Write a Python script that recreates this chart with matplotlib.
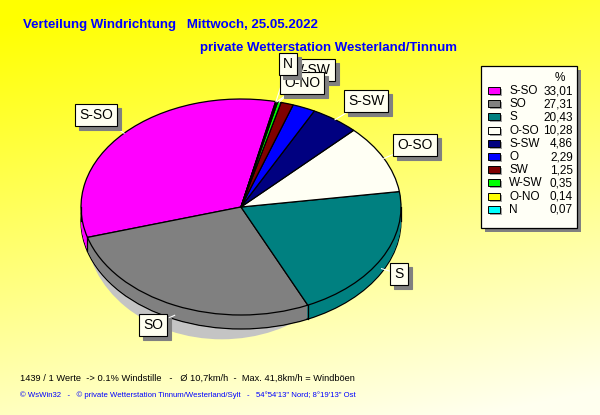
import numpy as np
import matplotlib
matplotlib.use("Agg")
import matplotlib.pyplot as plt
from matplotlib.patches import Rectangle, Ellipse
from matplotlib import transforms

# daten (anteile windrichtung in %)
richtungen = ["S-SO", "SO", "S", "O-SO", "S-SW", "O", "SW", "W-SW", "O-NO", "N"]
anteile = [33.01, 27.31, 20.43, 10.28, 4.86, 2.29, 1.25, 0.35, 0.14, 0.07]
farben = ["#FF00FF", "#808080", "#008080", "#FFFFF4", "#000080",
          "#0000FF", "#800000", "#00FF00", "#FFFF00", "#00FFFF"]

titel1 = "Verteilung Windrichtung   Mittwoch, 25.05.2022"
titel2 = "private Wetterstation Westerland/Tinnum"
info1 = "1439 / 1 Werte  -> 0.1% Windstille   -   \u00d8 10,7km/h  -  Max. 41,8km/h = Windb\u00f6en"
info2 = ("\u00a9 WsWin32   -   \u00a9 private Wetterstation Tinnum/Westerland/Sylt   -   "
         "54\u00b054'13'' Nord; 8\u00b019'13'' Ost")

# label-boxen (pixelpositionen, mitte), reihenfolge = zeichenreihenfolge
label_pos = {"S-SO": (96, 115), "SO": (153, 325), "S": (399, 274),
             "O-SO": (415, 145), "S-SW": (366, 101),
             "W-SW": (311, 70), "O-NO": (302, 83), "N": (288, 64)}

W, H = 600, 415
cx, cy, rx, ry = 241, 207, 160, 108   # ellipse in pixeln
tiefe = 14 / ry
start = 77.5

plt.rcParams['font.family'] = ['Liberation Sans', 'DejaVu Sans']
fig = plt.figure(figsize=(6, 4.15), dpi=100)

# hintergrund
bg = fig.add_axes([0, 0, 1, 1], zorder=0)
yy, xx = np.mgrid[0:H, 0:W]
t = np.clip(yy / H * 0.85 + xx / W * 0.25 - 0.05, 0, 1)
img = np.dstack([np.ones_like(t), np.ones_like(t), t * 0.94])
bg.imshow(img, extent=(0, W, H, 0), aspect='auto')
bg.set_xlim(0, W); bg.set_ylim(H, 0); bg.axis('off')

# torte
x0, x1, y0, y1 = -1.1, 1.1, -1.35, 1.1
pa = fig.add_axes([(cx + x0 * rx) / W, 1 - (cy - y0 * ry) / H,
                   (x1 - x0) * rx / W, (y1 - y0) * ry / H], zorder=1)
pa.patch.set_alpha(0)
pa.add_patch(Ellipse((-0.12, -0.2), 1.7, 2.05, color='#C4C4C4', lw=0))
for k, d in enumerate(np.linspace(tiefe, 0, 15)):
    lw = 0.9 if k == 0 else 0
    pa.pie(anteile, colors=farben, startangle=start, center=(0, -d),
           wedgeprops=dict(linewidth=lw, edgecolor='black'))
grenzen = start + 360 * np.cumsum([0] + anteile[:-1]) / sum(anteile)
for g in grenzen:
    a = np.radians(g)
    if np.sin(a) < 0:
        pa.plot([np.cos(a)] * 2, [np.sin(a), np.sin(a) - tiefe], color='black', lw=0.9)
for sx in (-1, 1):
    pa.plot([sx, sx], [0, -tiefe], color='black', lw=0.9)
pa.pie(anteile, colors=farben, startangle=start,
       wedgeprops=dict(linewidth=0.9, edgecolor='black'))
pa.set_xlim(x0, x1); pa.set_ylim(y0, y1)
pa.set_aspect('auto')
pa.axis('off')

# overlay fuer texte
ov = fig.add_axes([0, 0, 1, 1], zorder=2)
ov.patch.set_alpha(0)
ov.set_xlim(0, W); ov.set_ylim(H, 0); ov.axis('off')

mitten = start + 360 * (np.cumsum(anteile) - np.array(anteile) / 2) / sum(anteile)
schatten = transforms.offset_copy(ov.transData, fig=fig, x=4, y=-4, units='dots')
for i, name in enumerate(richtungen):
    if name not in label_pos:
        continue
    a = np.radians(mitten[i])
    ex, ey = cx + rx * np.cos(a), cy - ry * np.sin(a)
    if np.sin(a) < 0:
        ey += 10
    bx, by = label_pos[name]
    ov.plot([ex, bx], [ey, by], color='white', lw=0.8, zorder=3)
for z, name in enumerate(label_pos):
    bx, by = label_pos[name]
    ov.text(bx, by, name, transform=schatten, ha='center', va='center', fontsize=10,
            color='#808080', zorder=4 + 2 * z,
            bbox=dict(boxstyle='square,pad=0.3', fc='#808080', ec='#808080', lw=0.8))
    ov.text(bx, by, name, ha='center', va='center', fontsize=10, color='black',
            zorder=5 + 2 * z,
            bbox=dict(boxstyle='square,pad=0.3', fc='#FFFFF0', ec='black', lw=0.8))

# legende
ov.add_patch(Rectangle((485, 70), 96, 162, fc='#808080', ec='none', zorder=30))
ov.add_patch(Rectangle((481, 66), 96, 162, fc='#FFFFF6', ec='black', lw=0.9, zorder=31))
ov.text(560, 78, "%", ha='center', va='center', fontsize=8.5, zorder=32)
for i, (name, v, c) in enumerate(zip(richtungen, anteile, farben)):
    y = 91 + i * 13.2
    ov.add_patch(Rectangle((490, y - 2), 12, 7, fc='#A0A0A0', ec='none', zorder=32))
    ov.add_patch(Rectangle((488, y - 4), 12, 7, fc=c, ec='black', lw=0.7, zorder=33))
    ov.text(509, y, name, ha='left', va='center', fontsize=8.5, zorder=33)
    ov.text(573, y, f"{v:.2f}".replace('.', ','), ha='right', va='center',
            fontsize=8.5, zorder=33)

# titel und fusszeilen
ov.text(23, 25, titel1, ha='left', va='center', fontsize=9.5, fontweight='bold',
        color='#0000FF')
ov.text(200, 48, titel2, ha='left', va='center', fontsize=9.5, fontweight='bold',
        color='#0000FF')
ov.text(20, 378, info1, ha='left', va='center', fontsize=6.7, color='black')
ov.text(20, 395, info2, ha='left', va='center', fontsize=5.6, color='#0000FF')

fig.savefig("out.png", dpi=100)
